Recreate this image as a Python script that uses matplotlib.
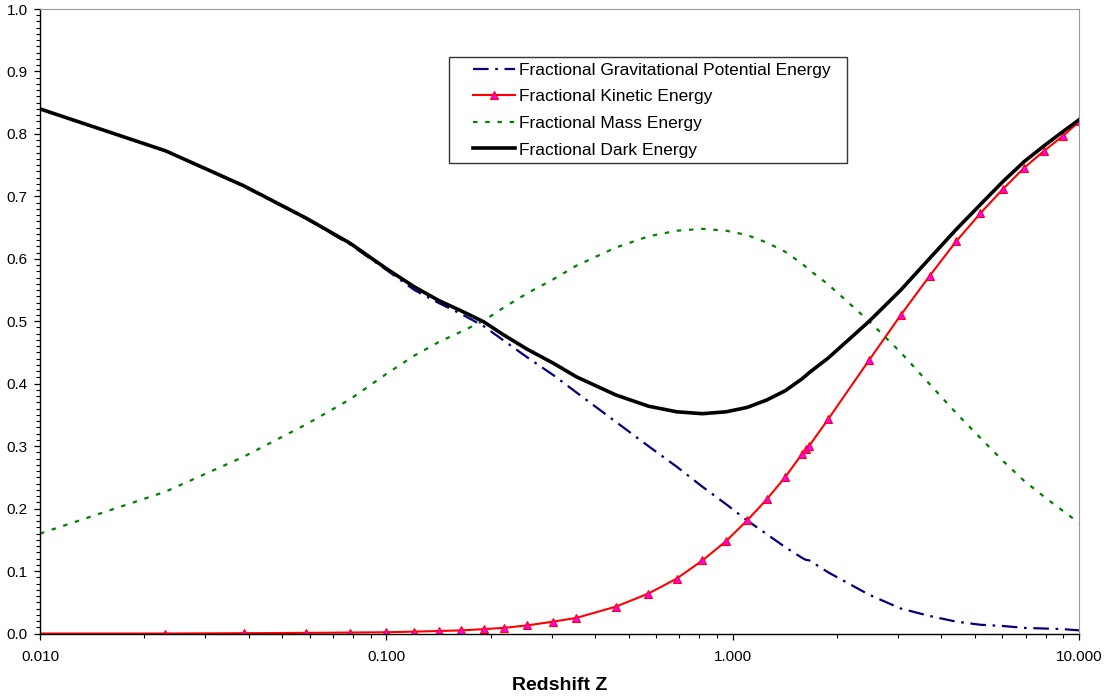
import matplotlib
matplotlib.use("Agg")
import matplotlib.pyplot as plt
from matplotlib.legend_handler import HandlerLine2D
from matplotlib.ticker import FixedLocator, MultipleLocator, FormatStrFormatter, LogLocator, NullFormatter

plt.rcParams['font.family'] = ['Liberation Sans', 'DejaVu Sans']

# redshift sample points
z = [0.010, 0.023, 0.0387, 0.0587, 0.0785, 0.0995, 0.1204, 0.1418, 0.1639, 0.191,
     0.2181, 0.2552, 0.3027, 0.3534, 0.4592, 0.5704, 0.6887, 0.8166, 0.9559, 1.099,
     1.253, 1.418, 1.585, 1.624, 1.663, 1.883, 2.474, 3.052, 3.702, 4.410,
     5.183, 6.026, 6.941, 7.914, 8.980, 10.0]

grav_pe = [0.840, 0.773, 0.716, 0.664, 0.623, 0.583, 0.550, 0.529, 0.512, 0.492,
           0.469, 0.442, 0.414, 0.386, 0.339, 0.300, 0.267, 0.235, 0.207, 0.181,
           0.159, 0.138, 0.121, 0.118, 0.117, 0.098, 0.062, 0.040, 0.028, 0.019,
           0.014, 0.012, 0.009, 0.008, 0.007, 0.005]

kinetic = [0.000, 0.000, 0.0005, 0.001, 0.0015, 0.002, 0.003, 0.004, 0.005, 0.007,
           0.009, 0.013, 0.019, 0.025, 0.043, 0.064, 0.088, 0.117, 0.148, 0.181,
           0.215, 0.251, 0.288, 0.295, 0.301, 0.343, 0.438, 0.510, 0.573, 0.628,
           0.673, 0.712, 0.746, 0.773, 0.797, 0.820]

mass = [0.160, 0.227, 0.283, 0.335, 0.375, 0.415, 0.445, 0.467, 0.483, 0.501,
        0.522, 0.545, 0.567, 0.589, 0.618, 0.636, 0.645, 0.648, 0.645, 0.638,
        0.626, 0.611, 0.592, 0.587, 0.582, 0.559, 0.500, 0.450, 0.399, 0.353,
        0.313, 0.276, 0.244, 0.219, 0.196, 0.177]

dark = [0.840, 0.773, 0.717, 0.665, 0.625, 0.585, 0.555, 0.533, 0.517, 0.499,
        0.478, 0.455, 0.433, 0.411, 0.382, 0.364, 0.355, 0.352, 0.355, 0.362,
        0.374, 0.389, 0.408, 0.413, 0.418, 0.441, 0.500, 0.550, 0.601, 0.647,
        0.687, 0.724, 0.756, 0.781, 0.804, 0.823]

fig = plt.figure(figsize=(11.06, 6.98), dpi=100)
ax = fig.add_axes([0.0362, 0.0924, 0.9397, 0.8947])

ax.plot(z, grav_pe, color='#000080', lw=1.6, dashes=(7, 3, 1.2, 3),
        label='Fractional Gravitational Potential Energy')
ax.plot(z, kinetic, color='#FF0000', lw=1.5, marker='^', markersize=5.5,
        markerfacecolor='#FF00FF', markeredgecolor='#FF0000', markeredgewidth=0.8,
        markevery=slice(1, None), label='Fractional Kinetic Energy')
ax.plot(z, mass, color='#008000', lw=1.6, dashes=(2, 3.5),
        label='Fractional Mass Energy')
ax.plot(z, dark, color='black', lw=2.6, label='Fractional Dark Energy')

ax.set_xscale('log')
ax.set_xlim(0.01, 10)
ax.set_ylim(0, 1)

ax.xaxis.set_major_locator(FixedLocator([0.01, 0.1, 1, 10]))
ax.xaxis.set_major_formatter(FormatStrFormatter('%.3f'))
ax.xaxis.set_minor_locator(LogLocator(base=10, subs=range(2, 10)))
ax.xaxis.set_minor_formatter(NullFormatter())
ax.yaxis.set_major_locator(MultipleLocator(0.1))
ax.yaxis.set_major_formatter(FormatStrFormatter('%.1f'))
ax.yaxis.set_minor_locator(MultipleLocator(0.01))

ax.tick_params(axis='both', which='major', direction='out', length=4, width=0.9,
               labelsize=11)
ax.tick_params(axis='both', which='minor', direction='out', length=3, width=0.8)
ax.tick_params(axis='x', which='major', pad=8)
ax.tick_params(axis='y', which='major', pad=5)

ax.spines['left'].set_linewidth(1.0)
ax.spines['bottom'].set_linewidth(1.0)
ax.spines['top'].set_color('#999999')
ax.spines['right'].set_color('#999999')

ax.set_xlabel('Redshift Z', fontsize=14, fontweight='bold', labelpad=9)

# handle drawn a bit in from the box edge, like the Excel legend
hl = HandlerLine2D(xpad=1.04)
leg = ax.legend(loc='upper left', bbox_to_anchor=(0.3935, 0.5, 0.383, 0.423),
                mode='expand', borderaxespad=0,
                fontsize=12.5, frameon=True, fancybox=False, handlelength=3.5,
                handletextpad=0.23, labelspacing=0.655, borderpad=0.33,
                handler_map={matplotlib.lines.Line2D: hl})
leg.get_frame().set_edgecolor('black')
leg.get_frame().set_linewidth(1.0)

fig.savefig('out.png', dpi=100)
